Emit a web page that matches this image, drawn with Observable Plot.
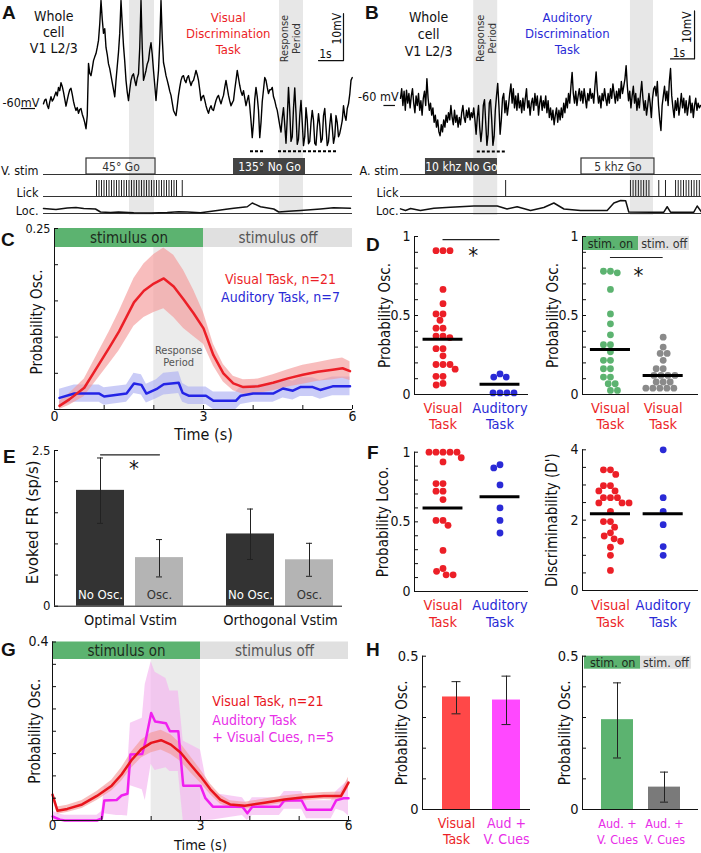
<!DOCTYPE html>
<html>
<head>
<meta charset="utf-8">
<script src="https://cdn.jsdelivr.net/npm/d3@7"></script>
<script src="https://cdn.jsdelivr.net/npm/@observablehq/plot@0.6"></script>
<style>
  html, body { margin: 0; padding: 0; background: #fff; }
  #fig { position: relative; width: 701px; height: 853px; overflow: hidden; background: #fff; color: #111;
         font-family: "DejaVu Sans Condensed", "DejaVu Sans", sans-serif; }
  .letter { position: absolute; font: bold 19px "Liberation Sans", Arial, sans-serif; line-height: 20px; color: #111; }
</style>
</head>
<body>
<div id="fig"></div>
<script>
// ======================= DATA =======================
// Panel A: whole-cell trace (mV), sampled every aDt seconds
const aDt = 0.05;
const aVm = [
 -59.0,-58.2,-58.0,-59.3,-60.0,-58.6,-57.5,-58.4,-58.0,-57.2,
 -56.5,-57.3,-55.5,-56.2,-54.5,-55.3,-56.5,-58.0,-59.5,-58.2,
 -57.0,-56.0,-55.7,-57.0,-58.5,-59.6,-60.4,-59.8,-61.0,-60.2,
 -60.0,-61.2,-62.0,-63.0,-64.3,-61.5,-50.4,-52.5,-53.0,-51.5,
 -49.8,-49.0,-48.3,-47.0,-45.5,-42.0,-37.0,-41.0,-44.0,-43.0,
 -47.0,-48.5,-50.5,-51.5,-53.0,-54.5,-56.0,-57.5,-54.0,-51.0,
 -48.0,-44.0,-37.0,-42.0,-46.6,-50.0,-54.0,-56.5,-58.3,-56.0,
 -54.0,-53.0,-52.6,-54.0,-55.1,-53.5,-52.6,-47.0,-37.0,-47.0,
 -54.0,-53.0,-51.9,-50.5,-49.8,-47.5,-46.0,-48.5,-51.9,-55.0,
 -58.3,-55.0,-51.9,-46.0,-37.0,-45.0,-50.2,-51.5,-53.0,-54.0,
 -55.1,-56.3,-57.2,-58.8,-60.4,-61.0,-61.5,-59.5,-57.2,-55.5,
 -54.0,-53.2,-53.0,-54.0,-54.5,-53.4,-53.0,-54.2,-55.1,-54.3,
 -54.0,-53.0,-51.9,-52.8,-54.0,-56.0,-58.3,-57.5,-57.2,-58.2,
 -59.4,-60.3,-61.0,-60.0,-59.4,-60.2,-60.4,-59.3,-58.3,-57.6,
 -57.2,-58.2,-59.0,-58.0,-57.2,-55.5,-54.0,-55.6,-57.2,-58.4,
 -59.4,-58.8,-58.3,-56.0,-54.0,-51.9,-53.5,-55.1,-56.4,-57.2,
 -56.2,-57.8,-59.4,-58.2,-57.2,-59.5,-62.6,-66.2,-63.0,-58.0,
 -55.5,-57.5,-60.4,-66.2,-63.0,-58.5,-56.0,-53.4,-54.0,-55.5,
 -56.8,-56.0,-56.0,-55.5,-57.5,-58.3,-59.5,-60.4,-62.0,-63.6,
 -65.0,-62.0,-59.8,-63.5,-67.4,-62.0,-55.5,-60.5,-67.0,-66.0,
 -60.0,-55.6,-61.0,-67.6,-66.5,-61.5,-58.3,-63.0,-67.9,-66.0,
 -59.8,-62.5,-67.5,-67.0,-63.0,-60.4,-62.5,-67.4,-67.8,-64.0,
 -61.1,-63.5,-67.2,-66.5,-61.5,-60.0,-64.0,-67.9,-67.0,-63.5,
 -61.1,-64.0,-67.4,-66.0,-61.5,-63.0,-66.0,-65.3,-64.0,-62.6,
 -59.4,-61.5,-62.5,-60.0,-59.0,-57.0,-54.0,-53.4];
const aRespStart = [3.44, 9.44], aRespEnd = [4.44, 10.4];
const aOscStart = [8.28, 9.4], aOscEnd = [8.84, 11.8];
const aStimLabel = ["45° Go", "135° No Go"], aStimOn = [1.72, 7.6], aStimOff = [4.48, 10.48], aStimGo = [true, false];
const aLicks = [2.12,2.22,2.32,2.42,2.52,2.62,2.72,2.82,2.92,3.02,3.12,3.22,3.32,3.42,3.52,3.62,3.72,
 3.82,3.92,4.02,4.12,4.22,4.32,4.42,4.52,4.62,4.72,4.82,4.92,5.02,5.12,5.22,5.32,5.55];
const aLocT = [0,0.5,0.95,1.3,1.61,2.08,2.28,2.68,3.0,3.61,4.3,4.95,5.4,5.75,6.28,6.95,7.3,7.61,8.15,8.35,8.68,9.21,9.41,9.8,10.28,11.08,11.6,12.28];
const aLocV = [0.33,0.27,0.37,0.4,0.33,0.3,0.1,0.07,0.1,0.05,0.04,0.07,0.12,0.1,0.05,0.2,0.28,0.35,0.45,0.7,0.45,0.3,0.1,0.15,0.2,0.3,0.38,0.35];

// Panel B
const bDt = 0.05;
const bVm = [
 -58.5,-56.5,-60.0,-57.0,-61.0,-56.8,-59.5,-57.5,-60.5,-58.0,
 -56.5,-59.5,-61.5,-58.0,-60.0,-57.5,-61.0,-59.0,-62.0,-58.5,
 -57.0,-60.0,-54.4,-58.5,-61.0,-59.5,-62.0,-60.5,-63.5,-62.0,
 -64.5,-63.0,-65.5,-66.3,-64.0,-65.5,-63.0,-64.5,-62.0,-63.5,
 -61.5,-63.0,-60.0,-62.5,-64.0,-61.0,-63.5,-62.0,-64.5,-62.5,
 -64.0,-61.5,-60.0,-62.5,-63.5,-61.0,-62.5,-60.5,-63.0,-61.5,
 -62.5,-60.5,-63.0,-66.0,-62.5,-60.0,-64.5,-67.5,-65.0,-60.0,
 -58.8,-63.5,-68.3,-66.0,-59.5,-58.8,-63.0,-68.3,-66.5,-61.0,
 -58.0,-55.4,-60.0,-66.0,-63.0,-58.5,-57.5,-61.5,-59.0,-62.0,
 -60.0,-57.5,-55.5,-59.5,-56.5,-60.5,-58.0,-61.0,-57.5,-60.5,
 -59.0,-61.5,-58.5,-61.0,-58.5,-56.5,-60.5,-59.0,-62.0,-59.5,
 -58.5,-61.0,-57.5,-60.0,-58.0,-62.0,-59.5,-58.0,-61.0,-59.0,
 -60.5,-58.0,-61.5,-59.0,-62.5,-60.5,-63.0,-61.0,-64.0,-62.0,
 -60.5,-63.5,-61.0,-63.0,-60.5,-62.5,-59.5,-61.5,-58.5,-60.5,
 -57.5,-59.5,-56.0,-53.1,-57.5,-59.5,-57.0,-60.0,-58.0,-56.5,
 -59.0,-57.0,-59.5,-56.5,-58.5,-60.5,-57.5,-59.0,-56.5,-58.5,
 -57.5,-59.5,-56.0,-53.0,-57.0,-59.5,-58.0,-60.5,-57.5,-59.0,
 -56.5,-58.5,-60.0,-57.5,-59.5,-56.5,-58.5,-55.5,-57.5,-59.5,
 -57.0,-59.0,-56.5,-58.5,-55.0,-57.5,-56.0,-54.5,-51.7,-56.0,
 -59.0,-57.0,-60.5,-58.0,-56.0,-59.5,-57.5,-61.0,-58.5,-60.5,
 -57.5,-55.0,-58.5,-61.0,-59.0,-62.0,-60.0,-57.5,-59.5,-62.5,
 -58.5,-56.5,-56.0,-58.0,-55.0,-60.0,-63.0,-65.2,-60.0,-58.0,
 -56.0,-59.0,-57.0,-60.0,-55.0,-52.3,-58.0,-60.5,-62.5,-59.0,
 -61.0,-58.5,-62.0,-60.0,-57.5,-60.5,-58.5,-61.5,-59.0,-62.0,
 -60.0,-58.0,-61.5,-59.5,-62.5,-60.0,-58.5,-61.0,-59.5,-60.5,
 -60.0];
const bRespStart = [3.05, 9.58], bRespEnd = [4.05, 10.54];
const bOscStart = [3.2], bOscEnd = [4.4];
const bStimLabel = ["10 khz No Go", "5 khz Go"], bStimOn = [1.04, 7.54], bStimOff = [4.04, 10.58], bStimGo = [false, true];
const bLicks = [4.38,9.58,9.69,9.80,9.91,10.02,10.13,10.24,10.35,10.76,11.04,11.46,11.57,11.68,11.79,11.90,12.01,12.12,12.23,12.34,12.45];
const bLocT = [0,0.21,0.42,0.83,1.39,2.08,3.06,4.03,4.44,4.86,5.42,5.97,6.39,6.81,7.5,8.61,8.89,9.17,9.38,9.51,10.42,10.97,11.11,11.25,12.22,12.36,12.54];
const bLocV = [0.31,0.2,0.33,0.2,0.35,0.42,0.5,0.5,0.3,0.45,0.2,0.4,0.7,0.3,0.2,0.2,0.7,0.87,0.85,0.1,0.09,0.09,0.45,0.09,0.09,0.5,0.1];
const scaleBarSeconds = 1, scaleBarMV = 10;

// Panel C
const stimLabels = ["stimulus on", "stimulus off"], stimStart = [0, 3], stimEnd = [3, 6];
const responseWindow = [2, 3];
const cVisT = [0.1,0.3,0.6,0.9,1.1,1.3,1.6,1.8,2.0,2.2,2.4,2.6,2.8,3.0,3.2,3.4,3.6,3.8,4.1,4.4,4.7,5.0,5.3,5.6,5.8,5.95];
const cVisM = [0.005,0.014,0.03,0.063,0.085,0.108,0.148,0.164,0.174,0.181,0.17,0.152,0.133,0.112,0.075,0.05,0.036,0.031,0.032,0.037,0.043,0.048,0.052,0.055,0.057,0.053];
const cVisSem = [0.006,0.008,0.012,0.018,0.022,0.027,0.033,0.037,0.04,0.042,0.043,0.04,0.032,0.022,0.015,0.012,0.01,0.01,0.01,0.011,0.012,0.013,0.013,0.014,0.014,0.013];
const cAudT = [0.1,0.4,0.9,1.0,1.45,1.6,1.75,1.85,2.05,2.2,2.5,2.58,2.7,3.05,3.2,3.65,3.75,4.0,4.4,4.6,4.8,4.95,5.2,5.35,5.6,5.7,5.95];
const cAudM = [0.016,0.022,0.022,0.018,0.022,0.036,0.034,0.022,0.028,0.035,0.037,0.023,0.019,0.019,0.012,0.012,0.019,0.022,0.022,0.029,0.026,0.031,0.031,0.027,0.032,0.032,0.032];
const cAudSem = [0.012,0.012,0.012,0.012,0.012,0.014,0.014,0.013,0.013,0.015,0.015,0.013,0.012,0.012,0.012,0.012,0.012,0.012,0.012,0.013,0.013,0.013,0.013,0.013,0.013,0.013,0.013];
const timeTicks = [0,1,2,3,4,5,6], timeLabels = [0,3,6];
const cYTicks = [0,0.05,0.1,0.15,0.2,0.25];

// Panel D
const dVisual = [0.91,0.91,0.91,0.665,0.575,0.51,0.51,0.47,0.42,0.42,0.37,0.37,0.36,0.29,0.29,0.245,0.19,0.19,0.19,0.16,0.115,0.115,0.07,0.06];
const dAuditory = [0.13,0.11,0.11,0.01,0.01,0.01,0.01];
const dMedians = [0.35, 0.065];
const dStimOn = [0.78,0.78,0.77,0.665,0.51,0.447,0.378,0.315,0.315,0.27,0.216,0.216,0.163,0.163,0.11,0.11,0.068,0.068,0.026,0.026];
const dStimOff = [0.363,0.3,0.26,0.26,0.216,0.163,0.163,0.121,0.121,0.121,0.121,0.079,0.079,0.079,0.04,0.04,0.04,0.04,0.04];
const dOnOffMedians = [0.285, 0.12];
const ticks01 = [0,0.1,0.2,0.3,0.4,0.5,0.6,0.7,0.8,0.9,1];

// Panel E
const eGroups = ["Optimal Vstim", "Orthogonal Vstim"], eConds = ["No Osc.", "Osc."];
const eGroup = ["Optimal Vstim","Optimal Vstim","Orthogonal Vstim","Orthogonal Vstim"];
const eCond = ["No Osc.","Osc.","No Osc.","Osc."];
const eFR = [1.86, 0.78, 1.16, 0.745];
const eLo = [1.33, 0.47, 0.75, 0.48];
const eHi = [2.38, 1.07, 1.56, 1.01];
const eTicks = [0,0.5,1,1.5,2,2.5];

// Panel F
const fVisual = [1,1,1,1,1,0.96,0.93,0.775,0.775,0.72,0.72,0.66,0.51,0.51,0.475,0.295,0.165,0.145,0.12,0.12];
const fAuditory = [0.91,0.887,0.765,0.6,0.51,0.42];
const fMedians = [0.6, 0.68];
const fdVisual = [3.43,3.43,3.3,2.98,2.98,2.83,2.83,2.64,2.64,2.64,2.49,2.49,2.49,2.25,1.96,1.96,1.8,1.64,1.55,1.47,1.4,1.23,1.0,0.57];
const fdAuditory = [4.0,2.64,2.25,1.87,1.25,1.0];
const fdMedians = [2.18, 2.18];
const dPrimeTicks = [0,0.5,1,1.5,2,2.5,3,3.5,4];

// Panel G
const gVisT = [0.0,0.1,0.3,0.6,0.9,1.2,1.4,1.6,1.8,2.0,2.2,2.4,2.6,2.8,3.0,3.2,3.4,3.6,3.9,4.3,4.7,5.1,5.5,5.85,6.0];
const gVisM = [0.058,0.022,0.026,0.036,0.055,0.078,0.103,0.135,0.16,0.174,0.18,0.17,0.152,0.125,0.099,0.07,0.047,0.036,0.033,0.04,0.047,0.052,0.055,0.055,0.085];
const gVisSem = [0.01,0.008,0.008,0.009,0.01,0.012,0.015,0.018,0.02,0.022,0.022,0.022,0.02,0.018,0.015,0.012,0.01,0.008,0.008,0.008,0.008,0.008,0.008,0.009,0.012];
const gAudT = [0.0,0.15,0.25,0.9,1.0,1.05,1.3,1.4,1.52,1.58,1.82,1.88,2.0,2.08,2.3,2.38,2.55,2.65,3.0,3.1,3.25,3.85,3.95,4.05,4.6,4.7,5.05,5.15,5.65,5.75,5.9,6.0];
const gAudM = [0.009,0.002,0.0,0.0,0.005,0.045,0.046,0.056,0.06,0.148,0.149,0.175,0.241,0.222,0.218,0.2,0.2,0.078,0.078,0.05,0.031,0.031,0.016,0.031,0.031,0.045,0.045,0.024,0.024,0.045,0.05,0.05];
const gAudSem = [0.012,0.012,0.012,0.012,0.015,0.03,0.035,0.045,0.05,0.07,0.08,0.13,0.115,0.11,0.1,0.09,0.09,0.1,0.08,0.05,0.03,0.02,0.02,0.02,0.02,0.02,0.02,0.02,0.02,0.02,0.03,0.04];
const gYTicks = [0,0.05,0.1,0.15,0.2,0.25,0.3,0.35,0.4];

// Panel H
const hLeftCats = ["Visual Task", "Aud + V. Cues"];
const hLeftLabels = ["Visual\nTask", "Aud +\nV. Cues"];
const hLeftMean = [0.367, 0.357], hLeftLo = [0.312, 0.277], hLeftHi = [0.417, 0.435];
const hRightCats = ["stim. on", "stim. off"];
const hRightLabels = ["Aud. +\nV. Cues", "Aud. +\nV. Cues"];
const hRightMean = [0.293, 0.073], hRightLo = [0.168, 0.024], hRightHi = [0.413, 0.122];
const hTicks = [0,0.1,0.2,0.3,0.4,0.5];

// ======================= STYLE =======================
const FONT = '"DejaVu Sans Condensed", "DejaVu Sans", sans-serif';
const RED = "#ec1f27", BLUE = "#2a2ad6", GREEN = "#5cb370", MAG = "#e82ee8";
const BAND = "#e7e7e7", STIMOFF = "#e0e0e0";

// ======================= HELPERS =======================
const fig = document.getElementById("fig");
function place(L, T, W, H, box, opts) {
  const svg = Plot.plot({
    width: W, height: H,
    marginLeft: box[0] - L, marginTop: box[1] - T,
    marginRight: L + W - box[2], marginBottom: T + H - box[3],
    style: {background: "none", position: "absolute", left: L + "px", top: T + "px",
            overflow: "visible", maxWidth: "none", fontFamily: FONT, color: "#111"},
    ...opts
  });
  fig.appendChild(svg);
  return svg;
}
function panel(c) {
  const xdom = c.xdom || [0, 1];
  return place(c.L, c.T, c.W, c.H, c.box, {
    x: c.xAxis ? {domain: xdom} : {domain: xdom, axis: null},
    y: {domain: c.ydom},
    marks: [
      ...(c.marks || []),
      Plot.ruleX([xdom[0]], {stroke: "#111"}),
      Plot.ruleY([c.ydom[0]], {stroke: "#111"}),
      Plot.axisY(c.yTicks, {anchor: "left", tickSize: -4, tickPadding: 8, fontSize: c.yFont || 14, label: null,
        tickFormat: d => c.yLabels.includes(d) ? String(d) : ""}),
      c.xAxis || null,
      Plot.text([c.title], {frameAnchor: "left", rotate: -90, textAnchor: "middle", lineAnchor: "middle",
        dx: c.titleDx, dy: c.titleDy || 0, fontSize: c.titleSize || 15})
    ]
  });
}
const zip = (ts, vs) => ts.map((t, i) => ({t, v: vs[i]}));
const band = (data) => Plot.rect(data, {x1: "s", x2: "e", fill: BAND});

function letter(ch, x, y) {
  const d = document.createElement("div");
  d.className = "letter"; d.textContent = ch;
  d.style.left = x + "px"; d.style.top = (y - 10) + "px";
  fig.appendChild(d);
}

// ======================= PANELS A & B =======================
function rows(L, W, x0, x1, xdom, resp, stim, licks, loc, stimName, labelX) {
  const xo = {domain: xdom, axis: null};
  place(L, 155, W, 22, [x0, 155, x1, 177], {
    x: xo, y: {domain: [-0.1875, 1.1875], axis: null},
    marks: [
      band(resp),
      Plot.ruleY([0], {stroke: "#333", strokeWidth: 1.2}),
      Plot.rect(stim.filter(d => !d.go), {x1: "on", x2: "off", y1: 0, y2: 1, fill: "#444"}),
      Plot.rect(stim.filter(d => d.go), {x1: "on", x2: "off", y1: 0, y2: 1, fill: "none", stroke: "#333", strokeWidth: 1.2}),
      Plot.text(stim.filter(d => d.go), {x: d => (d.on + d.off) / 2, y: 0.45, text: "label", fill: "#333", fontSize: 12}),
      Plot.text(stim.filter(d => !d.go), {x: d => (d.on + d.off) / 2, y: 0.45, text: "label", fill: "#fff", fontSize: 12}),
      Plot.text([stimName], {x: labelX, y: 0.25, textAnchor: "end", fontSize: 12.5})
    ]
  });
  place(L, 177, W, 21, [x0, 177, x1, 198], {
    x: xo, y: {domain: [-0.125, 1.1875], axis: null},
    marks: [
      band(resp),
      Plot.ruleY([0], {stroke: "#333", strokeWidth: 1.2}),
      Plot.ruleX(licks, {y1: 0, y2: 1, stroke: "#222", strokeWidth: 1}),
      Plot.text(["Lick"], {x: labelX, y: 0.25, textAnchor: "end", fontSize: 12.5})
    ]
  });
  place(L, 198, W, 17, [x0, 198, x1, 215], {
    x: xo, y: {domain: [-0.133, 1.0], axis: null},
    marks: [
      band(resp),
      Plot.ruleY([0], {stroke: "#333", strokeWidth: 1}),
      Plot.line(loc, {x: "t", y: "v", stroke: "#111", strokeWidth: 1.5}),
      Plot.text(["Loc."], {x: labelX, y: 0.2, textAnchor: "end", fontSize: 12.5})
    ]
  });
}

// A
{
  const trace = aVm.map((v, i) => ({t: i * aDt, v}));
  const resp = aRespStart.map((s, i) => ({s, e: aRespEnd[i]}));
  const osc = aOscStart.map((s, i) => ({s, e: aOscEnd[i]}));
  const stim = aStimLabel.map((label, i) => ({label, on: aStimOn[i], off: aStimOff[i], go: aStimGo[i]}));
  const xdom = [0, 12.36];
  const bx = 12.0, by = -49.8;
  place(0, 0, 360, 155, [43, 0, 352, 155], {
    x: {domain: xdom, axis: null}, y: {domain: [-70, -37], axis: null},
    marks: [
      band(resp),
      Plot.line(trace, {x: "t", y: "v", stroke: "#000", strokeWidth: 1.4}),
      Plot.ruleY(osc, {x1: "s", x2: "e", y: -69.1, stroke: "#000", strokeWidth: 2, strokeDasharray: "3,2"}),
      Plot.line([{t: bx - scaleBarSeconds, v: by}, {t: bx, v: by}, {t: bx, v: by + scaleBarMV}], {x: "t", y: "v", stroke: "#111", strokeWidth: 1.2}),
      Plot.text([scaleBarMV + "mV"], {x: 11.74, y: -43.0, rotate: -90, fontSize: 12}),
      Plot.text([scaleBarSeconds + "s"], {x: 11.28, y: -48.5, fontSize: 12}),
      Plot.text(["-60mV"], {x: -1.64, y: -58.9, textAnchor: "start", fontSize: 12.5}),
      Plot.ruleY([-60], {x1: -0.89, x2: -0.32, stroke: "#111", strokeWidth: 1.2}),
      Plot.text(["Whole\ncell\nV1 L2/3"], {x: 0.41, y: -43.7, fontSize: 14, lineHeight: 1.16}),
      Plot.text(["Visual\nDiscrimination\nTask"], {x: 7.39, y: -43.9, fontSize: 13, lineHeight: 1.25, fill: RED}),
      Plot.text(["Response\nPeriod"], {x: 9.88, y: -45.1, rotate: -90, fontSize: 11, lineHeight: 1.1, fill: "#333"})
    ]
  });
  rows(0, 360, 43, 352, xdom, resp, stim, aLicks, zip(aLocT, aLocV), "V. stim", -0.2);
}
// B
{
  const trace = bVm.map((v, i) => ({t: i * bDt, v}));
  const resp = bRespStart.map((s, i) => ({s, e: bRespEnd[i]}));
  const osc = bOscStart.map((s, i) => ({s, e: bOscEnd[i]}));
  const stim = bStimLabel.map((label, i) => ({label, on: bStimOn[i], off: bStimOff[i], go: bStimGo[i]}));
  const xdom = [0, 12.54];
  const bx = 12.25, by = -50.3;
  place(355, 0, 346, 155, [400, 0, 701, 155], {
    x: {domain: xdom, axis: null}, y: {domain: [-70.42, -38.125], axis: null},
    marks: [
      band(resp),
      Plot.line(trace, {x: "t", y: "v", stroke: "#000", strokeWidth: 1.4}),
      Plot.ruleY(osc, {x1: "s", x2: "e", y: -69.6, stroke: "#000", strokeWidth: 2, strokeDasharray: "3,2"}),
      Plot.line([{t: bx - scaleBarSeconds, v: by}, {t: bx, v: by}, {t: bx, v: by + scaleBarMV}], {x: "t", y: "v", stroke: "#111", strokeWidth: 1.2}),
      Plot.text([scaleBarMV + "mV"], {x: 11.94, y: -43.7, rotate: -90, fontSize: 12}),
      Plot.text([scaleBarSeconds + "s"], {x: 11.6, y: -49.2, fontSize: 12}),
      Plot.text(["-60 mV"], {x: -0.08, y: -58.3, textAnchor: "end", fontSize: 12.5}),
      Plot.ruleY([-60], {x1: -0.69, x2: -0.21, stroke: "#111", strokeWidth: 1.2}),
      Plot.text(["Whole\ncell\nV1 L2/3"], {x: 1.17, y: -45.0, fontSize: 14, lineHeight: 1.22}),
      Plot.text(["Auditory\nDiscrimination\nTask"], {x: 6.95, y: -44.85, fontSize: 13, lineHeight: 1.25, fill: BLUE}),
      Plot.text(["Response\nPeriod"], {x: 3.57, y: -46.0, rotate: -90, fontSize: 11, lineHeight: 1.1, fill: "#333"})
    ]
  });
  rows(355, 346, 400, 701, xdom, resp, stim, bLicks, zip(bLocT, bLocV), "A. stim", -0.08);
}

// ======================= PANEL C & G =======================
function timePanel(c) {
  const k = c.ymax / (c.box[3] - c.box[1]);
  const sb = stimLabels.map((label, i) => ({label, s: stimStart[i], e: stimEnd[i]}));
  const topBand = c.ymax - c.barPx * k;
  const mk = (t, m, s) => t.map((x, i) => ({t: x, m: m[i], lo: Math.max(0, m[i] - s[i]), hi: m[i] + s[i]}));
  const s1 = mk(c.t1, c.m1, c.s1), s2 = mk(c.t2, c.m2, c.s2);
  panel({
    L: c.L, T: c.T, W: c.W, H: c.H, box: c.box, xdom: [0, 6], ydom: [0, c.ymax],
    yTicks: c.yTicks, yLabels: [c.ymax], yFont: c.yFont, title: "Probability Osc.", titleDx: c.titleDx, titleDy: c.titleDy,
    xAxis: Plot.axisX(timeTicks, {tickSize: -4, tickPadding: c.tickPad, fontSize: c.tickSize, label: null,
      tickFormat: d => timeLabels.includes(d) ? String(d) : ""}),
    marks: [
      Plot.rect([sb[0]], {x1: "s", x2: "e", y1: topBand, y2: c.ymax, fill: GREEN}),
      Plot.rect([sb[1]], {x1: "s", x2: "e", y1: topBand, y2: c.ymax, fill: STIMOFF}),
      Plot.text([sb[0]], {x: d => (d.s + d.e) / 2, y: (topBand + c.ymax) / 2, text: "label", fill: "#1d2b1d", fontSize: 15}),
      Plot.text([sb[1]], {x: d => (d.s + d.e) / 2, y: (topBand + c.ymax) / 2, text: "label", fill: "#555", fontSize: 15}),
      Plot.rect([{s: responseWindow[0], e: responseWindow[1]}], {x1: "s", x2: "e", y1: 0, y2: topBand, fill: "#ebebeb"}),
      ...(c.extra || []),
      Plot.areaY(s2, {x: "t", y1: "lo", y2: "hi", fill: c.band2, fillOpacity: 0.65}),
      Plot.areaY(s1, {x: "t", y1: "lo", y2: "hi", fill: c.band1, fillOpacity: 0.65}),
      Plot.line(s2, {x: "t", y: "m", stroke: c.col2, strokeWidth: 2.5}),
      Plot.line(s1, {x: "t", y: "m", stroke: c.col1, strokeWidth: 2.5}),
      ...c.legend,
      Plot.text(["Time (s)"], {frameAnchor: "bottom", lineAnchor: "middle", dy: c.timeDy, fontSize: c.timeSize})
    ]
  });
}
timePanel({
  L: 0, T: 220, W: 365, H: 225, box: [54, 228, 352, 409], ymax: 0.25, barPx: 19, yTicks: cYTicks, yFont: 12.5,
  titleDx: -17, titleDy: 3, timeDy: 25, timeSize: 16, tickPad: 6, tickSize: 14,
  t1: cVisT, m1: cVisM, s1: cVisSem, t2: cAudT, m2: cAudM, s2: cAudSem,
  col1: RED, band1: "#f59a9a", col2: "#2424e6", band2: "#aeb0f2",
  extra: [Plot.text(["Response\nPeriod"], {x: 2.5, y: 0.074, fill: "#555", fontSize: 11, lineHeight: 1.15})],
  legend: [
    Plot.text(["Visual Task, n=21"], {x: 4.55, y: 0.18, fill: RED, fontSize: 14}),
    Plot.text(["Auditory Task, n=7"], {x: 4.55, y: 0.155, fill: BLUE, fontSize: 14})
  ]
});
timePanel({
  L: 0, T: 628, W: 365, H: 225, box: [52, 641.5, 348, 820], ymax: 0.4, barPx: 17.5, yTicks: gYTicks, yFont: 14,
  titleDx: -17, titleDy: 0, timeDy: 24.5, timeSize: 14.5, tickPad: 4, tickSize: 13.5,
  t1: gVisT, m1: gVisM, s1: gVisSem, t2: gAudT, m2: gAudM, s2: gAudSem,
  col1: "#e8141c", band1: "#f49a9a", col2: "#f020f0", band2: "#f4b4f0",
  legend: [
    Plot.text(["Visual Task, n=21"], {x: 3.24, y: 0.266, textAnchor: "start", fill: "#e8141c", fontSize: 14}),
    Plot.text(["Auditory Task\n+ Visual Cues, n=5"], {x: 3.24, y: 0.2075, textAnchor: "start", fill: MAG, fontSize: 14, lineHeight: 1.21})
  ]
});

// ======================= PANELS D & F (dot columns) =======================
function swarm(vals, pos, color, box, xdom) {
  const k = (box[2] - box[0]) / (xdom[1] - xdom[0]);
  const dx = (pos - (xdom[0] + xdom[1]) / 2) * k;
  return Plot.dot(vals, Plot.dodgeX({anchor: "middle", padding: 0.2}, {y: d => d, r: 3.4, fill: color, dx}));
}
const medianRule = (v, pos, hw) => Plot.ruleY([v], {x1: pos - hw, x2: pos + hw, stroke: "#000", strokeWidth: 3});
const catLabel = (text, pos, y0, color, dy, lh) =>
  Plot.text([text], {x: pos, y: y0, lineAnchor: "top", dy, fill: color, fontSize: 14.5, lineHeight: lh});
const XL = [0, 2], XR = [-0.03, 2.17];

// D left
{
  const box = [414, 236, 528, 394];
  panel({L: 365, T: 225, W: 170, H: 215, box, xdom: XL, ydom: [0, 1], yTicks: ticks01, yLabels: [0, 0.5, 1],
    title: "Probability Osc.", titleDx: -29,
    marks: [
      swarm(dVisual, 0.5, RED, box, XL), swarm(dAuditory, 1.5, BLUE, box, XL),
      medianRule(dMedians[0], 0.5, 0.35), medianRule(dMedians[1], 1.5, 0.35),
      Plot.ruleY([0.98], {x1: 0.5, x2: 1.5, stroke: "#222", strokeWidth: 1.2}),
      Plot.text(["*"], {x: 1.03, y: 0.88, fontSize: 22}),
      catLabel("Visual\nTask", 0.5, 0, RED, 7.5, 1.1), catLabel("Auditory\nTask", 1.5, 0, BLUE, 7.5, 1.1)
    ]});
}
// D right
{
  const box = [582, 236, 698, 394];
  const yb = 1 - 14 / 158;
  panel({L: 535, T: 225, W: 166, H: 215, box, xdom: XR, ydom: [0, 1], yTicks: ticks01, yLabels: [0, 0.5, 1],
    title: "Probability Osc.", titleDx: -29,
    marks: [
      Plot.rect([{s: -0.03, e: 1.033}], {x1: "s", x2: "e", y1: yb, y2: 1, fill: GREEN}),
      Plot.rect([{s: 1.033, e: 2.0}], {x1: "s", x2: "e", y1: yb, y2: 1, fill: STIMOFF}),
      Plot.text(["stim. on"], {x: 0.5, y: (1 + yb) / 2, fontSize: 12.5, fill: "#1d2b1d"}),
      Plot.text(["stim. off"], {x: 1.52, y: (1 + yb) / 2, fontSize: 12.5, fill: "#333"}),
      swarm(dStimOn, 0.5, GREEN, box, XR), swarm(dStimOff, 1.5, "#8a8a8a", box, XR),
      medianRule(dOnOffMedians[0], 0.5, 0.38), medianRule(dOnOffMedians[1], 1.5, 0.38),
      Plot.ruleY([0.867], {x1: 0.5, x2: 1.5, stroke: "#222", strokeWidth: 1.2}),
      Plot.text(["*"], {x: 1.03, y: 0.753, fontSize: 22}),
      catLabel("Visual\nTask", 0.5, 0, RED, 7.5, 1.1), catLabel("Visual\nTask", 1.5, 0, RED, 7.5, 1.1)
    ]});
}
// F left
{
  const box = [414, 451.7, 528, 591];
  panel({L: 365, T: 440, W: 170, H: 195, box, xdom: XL, ydom: [0, 1], yTicks: ticks01, yLabels: [0, 0.5, 1],
    title: "Probability Loco.", titleDx: -31,
    marks: [
      swarm(fVisual, 0.5, RED, box, XL), swarm(fAuditory, 1.5, BLUE, box, XL),
      medianRule(fMedians[0], 0.5, 0.35), medianRule(fMedians[1], 1.5, 0.35),
      catLabel("Visual\nTask", 0.5, 0, RED, 6.5, 1.17), catLabel("Auditory\nTask", 1.5, 0, BLUE, 6.5, 1.17)
    ]});
}
// F right
{
  const box = [582, 449.3, 698, 590];
  panel({L: 535, T: 440, W: 166, H: 195, box, xdom: XR, ydom: [0, 4], yTicks: dPrimeTicks, yLabels: [0, 2, 4],
    title: "Discriminability (D')", titleDx: -30,
    marks: [
      swarm(fdVisual, 0.5, RED, box, XR), swarm(fdAuditory, 1.5, BLUE, box, XR),
      medianRule(fdMedians[0], 0.5, 0.38), medianRule(fdMedians[1], 1.5, 0.38),
      catLabel("Visual\nTask", 0.5, 0, RED, 7.5, 1.17), catLabel("Auditory\nTask", 1.5, 0, BLUE, 7.5, 1.17)
    ]});
}

// ======================= PANEL E =======================
{
  const box = [54, 450, 342, 605.7];
  const eData = eFR.map((v, i) => ({g: eGroup[i], c: eCond[i], v, lo: eLo[i], hi: eHi[i]}));
  const sig = [{g: eGroups[0], c: eConds[0], v: 2.43}, {g: eGroups[0], c: eConds[1], v: 2.43}];
  const noOsc = eData.filter(d => d.c === eConds[0]), osc = eData.filter(d => d.c === eConds[1]);
  place(0, 440, 365, 200, box, {
    fx: {domain: eGroups, paddingInner: 0.278, paddingOuter: 0.0927, align: 0.75, axis: null, label: null},
    x: {domain: eConds, paddingInner: 0.1833, paddingOuter: 0, axis: null},
    y: {domain: [0, 2.5], axis: null},
    marks: [
      Plot.barY(noOsc, {fx: "g", x: "c", y: "v", fill: "#333"}),
      Plot.barY(osc, {fx: "g", x: "c", y: "v", fill: "#b4b4b4"}),
      Plot.ruleX(eData, {fx: "g", x: "c", y1: "lo", y2: "hi", stroke: "#222"}),
      Plot.tickY(eData, {fx: "g", x: "c", y: "lo", inset: 21, stroke: "#222"}),
      Plot.tickY(eData, {fx: "g", x: "c", y: "hi", inset: 21, stroke: "#222"}),
      Plot.text(noOsc, {fx: "g", x: "c", y: 0, dy: -11, text: "c", fill: "#fff", fontSize: 13}),
      Plot.text(osc, {fx: "g", x: "c", y: 0, dy: -11, text: "c", fill: "#333", fontSize: 13}),
      Plot.line(sig, {fx: "g", x: "c", y: "v", stroke: "#222", strokeWidth: 1.2}),
      Plot.text([{g: eGroups[0]}], {fx: "g", text: () => "*", frameAnchor: "middle", y: 2.21, dx: 3.5, fontSize: 22}),
      Plot.text(eGroups, {fx: d => d, text: d => d, frameAnchor: "bottom", lineAnchor: "middle", dy: 14, fontSize: 14.5})
    ]
  });
  panel({L: 0, T: 440, W: 365, H: 200, box, ydom: [0, 2.5], yTicks: eTicks, yLabels: [0, 2.5], yFont: 13,
    title: "Evoked FR (sp/s)", titleDx: -22, titleDy: -6, titleSize: 16.5});
}

// ======================= PANEL H =======================
{
  const box = [422, 655.7, 530, 809];
  const d = hLeftCats.map((c, i) => ({c, v: hLeftMean[i], lo: hLeftLo[i], hi: hLeftHi[i], label: hLeftLabels[i]}));
  place(365, 628, 170, 225, box, {
    x: {domain: hLeftCats, paddingInner: 0.44, paddingOuter: 0.3, align: 0.667, axis: null},
    y: {domain: [0, 0.5], axis: null},
    marks: [
      Plot.barY([d[0]], {x: "c", y: "v", fill: "#ff4848"}),
      Plot.barY([d[1]], {x: "c", y: "v", fill: "#ff48ff"}),
      Plot.ruleX(d, {x: "c", y1: "lo", y2: "hi", stroke: "#222"}),
      Plot.tickY(d, {x: "c", y: "lo", inset: 9.5, stroke: "#222"}),
      Plot.tickY(d, {x: "c", y: "hi", inset: 9.5, stroke: "#222"}),
      Plot.text([d[0]], {x: "c", y: 0, text: "label", lineAnchor: "top", dy: 7.5, fill: RED, fontSize: 14, lineHeight: 1.12}),
      Plot.text([d[1]], {x: "c", y: 0, text: "label", lineAnchor: "top", dy: 7.5, fill: MAG, fontSize: 14, lineHeight: 1.12})
    ]
  });
  panel({L: 365, T: 628, W: 170, H: 225, box, ydom: [0, 0.5], yTicks: hTicks, yLabels: [0, 0.5], yFont: 14.5,
    title: "Probability Osc.", titleDx: -20.5});
}
{
  const box = [582, 655.7, 698, 809];
  const d = hRightCats.map((c, i) => ({c, v: hRightMean[i], lo: hRightLo[i], hi: hRightHi[i], label: hRightLabels[i]}));
  place(535, 628, 166, 225, box, {
    x: {domain: hRightCats, paddingInner: 0.3125, paddingOuter: 0.3646, align: 0.514, axis: null},
    y: {domain: [0, 0.5], axis: null},
    marks: [
      Plot.barY([d[0]], {x: "c", y: "v", fill: GREEN}),
      Plot.barY([d[1]], {x: "c", y: "v", fill: "#7a7a7a"}),
      Plot.ruleX(d, {x: "c", y1: "lo", y2: "hi", stroke: "#222"}),
      Plot.tickY(d, {x: "c", y: "lo", inset: 12, stroke: "#222"}),
      Plot.tickY(d, {x: "c", y: "hi", inset: 12, stroke: "#222"}),
      Plot.text(d, {x: "c", y: 0, text: "label", lineAnchor: "top", dy: 7.5, fill: MAG, fontSize: 12.5, lineHeight: 1.28})
    ]
  });
  const yb = 0.5 - 13 / 306.7;
  panel({L: 535, T: 628, W: 166, H: 225, box, ydom: [0, 0.5], yTicks: hTicks, yLabels: [0, 0.5], yFont: 14.5,
    title: "Probability Osc.", titleDx: -17,
    marks: [
      Plot.rect([{s: 0.017, e: 0.5}], {x1: "s", x2: "e", y1: yb, y2: 0.5, fill: GREEN}),
      Plot.rect([{s: 0.5, e: 0.94}], {x1: "s", x2: "e", y1: yb, y2: 0.5, fill: STIMOFF}),
      Plot.text(["stim. on"], {x: 0.26, y: (0.5 + yb) / 2, fontSize: 12.5, fill: "#1d2b1d"}),
      Plot.text(["stim. off"], {x: 0.72, y: (0.5 + yb) / 2, fontSize: 12.5, fill: "#333"})
    ]});
}

// ======================= PANEL LETTERS =======================
letter("A", 2, 13); letter("B", 365, 13); letter("C", 1, 240); letter("D", 366, 245);
letter("E", 3, 457); letter("F", 367, 453); letter("G", 1, 650); letter("H", 366, 650);
</script>
</body>
</html>
